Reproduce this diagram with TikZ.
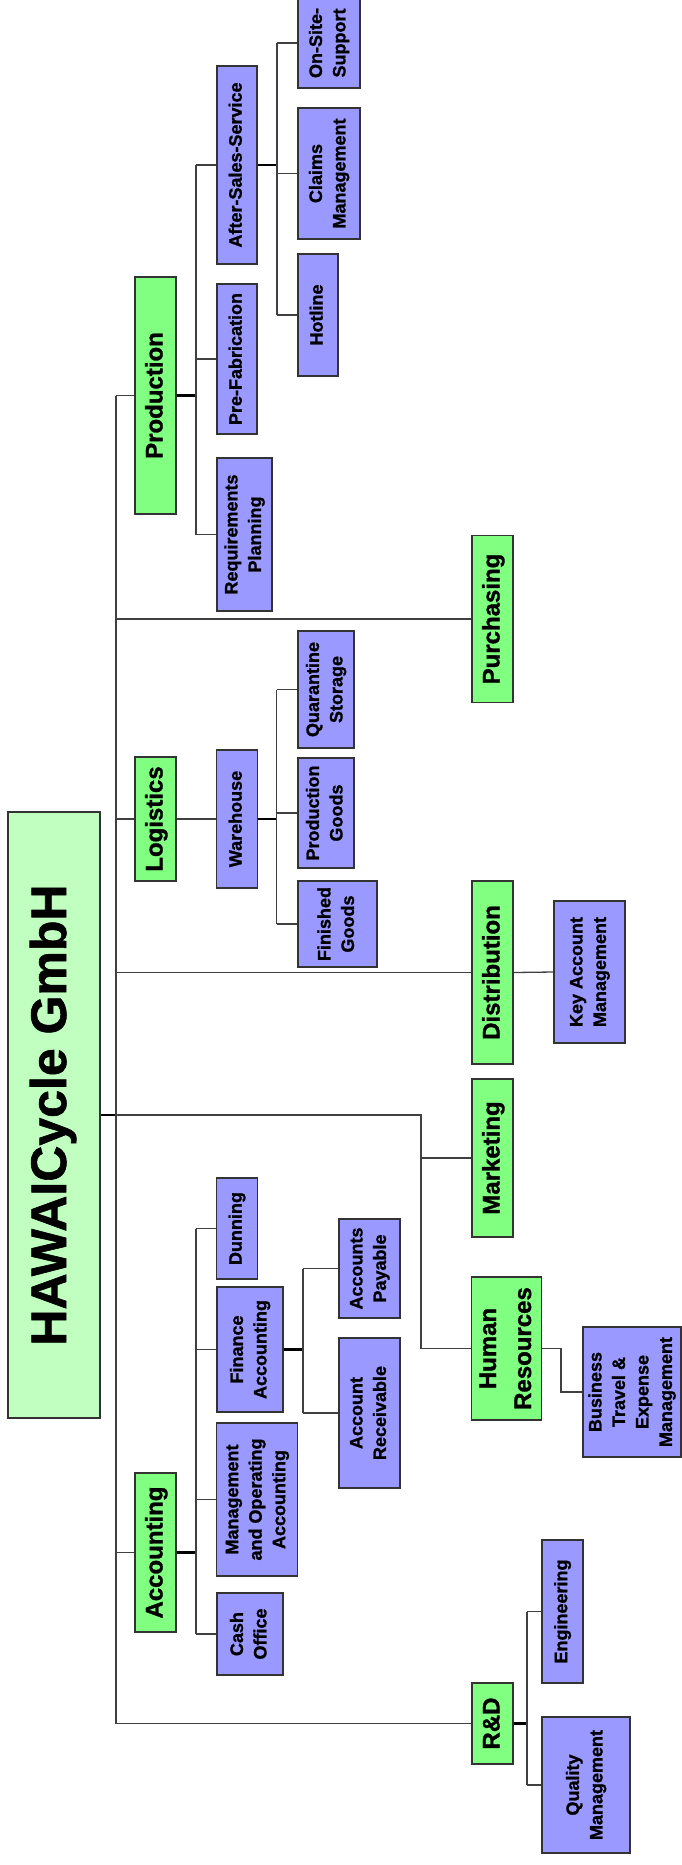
\documentclass[tikz,border=0pt]{standalone}
\usepackage{fontspec}
\setmainfont{Liberation Sans}
\newfontfamily\chartfont{Liberation Sans Bold}[FakeBold=1.2]
\usepackage{graphicx}
\definecolor{rootfill}{HTML}{C0FFC0}
\definecolor{deptfill}{HTML}{80FF80}
\definecolor{unitfill}{HTML}{9999FF}
% text standing upright, read from bottom to top
\newcommand{\vtext}[1]{\rotatebox{90}{\begin{tabular}{@{}c@{}}#1\end{tabular}}}
\tikzset{
  box/.style={draw=black!80, line width=1.2pt, inner sep=0pt, anchor=center},
  rootbox/.style={box, fill=rootfill, font=\chartfont\fontsize{50}{60}\selectfont},
  dept/.style={box, fill=deptfill, font=\chartfont\fontsize{24}{35}\selectfont},
  unit/.style={box, fill=unitfill, font=\chartfont\fontsize{18}{23.5}\selectfont},
  conn/.style={draw=black!75, line width=1.3pt},
  stub/.style={draw=black, line width=2.3pt},
}
\begin{document}
\begin{tikzpicture}[x=1pt, y=-1pt]
\useasboundingbox (0,0) rectangle (681,1865);

% company
\node[rootbox, minimum width=92pt, minimum height=606pt] (root) at (54,1115) {\vtext{HAWAICycle GmbH}};

% departments
\node[dept, minimum width=41pt, minimum height=237pt] (prod)  at (155.5,395.5) {\vtext{Production}};
\node[dept, minimum width=41pt, minimum height=167pt] (purch) at (492.5,619)   {\vtext{Purchasing}};
\node[dept, minimum width=41pt, minimum height=124pt] (logi)  at (155.5,819)   {\vtext{Logistics}};
\node[dept, minimum width=41pt, minimum height=183pt] (distr) at (492.5,972.5) {\vtext{Distribution}};
\node[dept, minimum width=41pt, minimum height=158pt] (mkt)   at (492.5,1158)  {\vtext{Marketing}};
\node[dept, minimum width=69pt, minimum height=143pt] (hr)    at (506.5,1348.5){\vtext{Human\\Resources}};
\node[dept, minimum width=41pt, minimum height=159pt] (acc)   at (155.5,1552.5){\vtext{Accounting}};
\node[dept, minimum width=41pt, minimum height=81pt]  (rd)    at (492.5,1723.5){\vtext{R\&D}};

% production units
\node[unit, minimum width=40pt, minimum height=198pt] (ass)  at (237,165)   {\vtext{After-Sales-Service}};
\node[unit, minimum width=40pt, minimum height=150pt] (pref) at (237,359)   {\vtext{Pre-Fabrication}};
\node[unit, minimum width=55pt, minimum height=153pt] (reqp) at (244.5,534.5) {\vtext{Requirements\\Planning}};
\node[unit, minimum width=62pt, minimum height=90pt]  (oss)  at (329,43)    {\vtext{On-Site-\\Support}};
\node[unit, minimum width=62pt, minimum height=131pt] (clm)  at (329,173.5) {\vtext{Claims\\Management}};
\node[unit, minimum width=40pt, minimum height=122pt] (hot)  at (318,315)   {\vtext{Hotline}};

% logistics units
\node[unit, minimum width=41pt, minimum height=138pt] (wh) at (237,819)   {\vtext{Warehouse}};
\node[unit, minimum width=56pt, minimum height=117pt] (qs) at (326,689.5) {\vtext{Quarantine\\Storage}};
\node[unit, minimum width=56pt, minimum height=110pt] (pg) at (326,813)   {\vtext{Production\\Goods}};
\node[unit, minimum width=79pt, minimum height=86pt]  (fg) at (337.5,924) {\vtext{Finished\\Goods}};

% distribution and human resources units
\node[unit, minimum width=71pt, minimum height=142pt] (kam) at (589.5,972) {\vtext{Key Account\\Management}};
\node[unit, minimum width=98pt, minimum height=130pt] (bt)  at (632,1392)  {\vtext{Business\\Travel \&\\Expense\\Management}};

% accounting units
\node[unit, minimum width=41pt, minimum height=101pt] (dun)  at (237,1228.5) {\vtext{Dunning}};
\node[unit, minimum width=66pt, minimum height=125pt] (fin)  at (250,1349.5) {\vtext{Finance\\Accounting}};
\node[unit, minimum width=61pt, minimum height=99pt]  (ap)   at (369.5,1268.5) {\vtext{Accounts\\Payable}};
\node[unit, minimum width=61pt, minimum height=150pt] (ar)   at (369.5,1413) {\vtext{Account\\Receivable}};
\node[unit, minimum width=81pt, minimum height=153pt] (moa)  at (257,1499.5) {\vtext{Management\\and Operating\\Accounting}};
\node[unit, minimum width=66pt, minimum height=82pt]  (cash) at (250,1634)   {\vtext{Cash\\Office}};

% research units
\node[unit, minimum width=41pt, minimum height=143pt] (eng) at (562.5,1611.5) {\vtext{Engineering}};
\node[unit, minimum width=88pt, minimum height=136pt] (qm)  at (586,1785)    {\vtext{Quality\\Management}};

% bar positions
\coordinate (tk)   at (116,0);
\coordinate (sb)   at (421,0);
\coordinate (pb)   at (196,0);
\coordinate (asb)  at (277,0);
\coordinate (whb)  at (276.5,0);
\coordinate (hrb)  at (561,0);
\coordinate (ab)   at (196,0);
\coordinate (fb)   at (303,0);
\coordinate (rb)   at (527,0);

% company to departments
\draw[stub] (root.east) -- (root.east -| tk);
\draw[conn] (root.east -| tk) -- (root.east -| sb) -- (hr.west -| sb) -- (hr.west);
\draw[conn] (mkt.west -| sb) -- (mkt.west);
\draw[conn] (prod.west -| tk) -- (rd.west -| tk);
\foreach \d in {prod, purch, logi, distr, acc, rd}
  \draw[conn] (\d.west -| tk) -- (\d.west);

% production
\draw[stub] (prod.east) -- (prod.east -| pb);
\draw[conn] (ass.west -| pb) -- (reqp.west -| pb);
\foreach \u in {ass, pref, reqp}
  \draw[conn] (\u.west -| pb) -- (\u.west);
\draw[stub] (ass.east) -- (ass.east -| asb);
\draw[conn] (oss.west -| asb) -- (hot.west -| asb);
\foreach \u in {oss, clm, hot}
  \draw[conn] (\u.west -| asb) -- (\u.west);

% logistics
\draw[conn] (logi.east) -- (wh.west);
\draw[stub] (wh.east) -- (wh.east -| whb);
\draw[conn] (qs.west -| whb) -- (fg.west -| whb);
\foreach \u in {qs, pg, fg}
  \draw[conn] (\u.west -| whb) -- (\u.west);

% distribution and human resources
\draw[conn] (distr.east) -- (kam.west);
\draw[conn] (hr.east) -- (hr.east -| hrb) |- (bt.west);

% accounting
\draw[stub] (acc.east) -- (acc.east -| ab);
\draw[conn] (dun.west -| ab) -- (cash.west -| ab);
\foreach \u in {dun, fin, moa, cash}
  \draw[conn] (\u.west -| ab) -- (\u.west);
\draw[stub] (fin.east) -- (fin.east -| fb);
\draw[conn] (ap.west -| fb) -- (ar.west -| fb);
\foreach \u in {ap, ar}
  \draw[conn] (\u.west -| fb) -- (\u.west);

% research and development
\draw[stub] (rd.east) -- (rd.east -| rb);
\draw[conn] (eng.west -| rb) -- (qm.west -| rb);
\foreach \u in {eng, qm}
  \draw[conn] (\u.west -| rb) -- (\u.west);
\end{tikzpicture}
\end{document}
